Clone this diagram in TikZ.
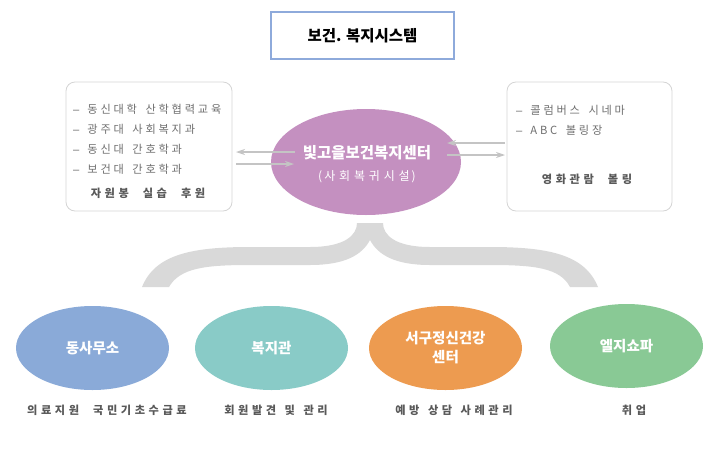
\documentclass[tikz,border=0pt]{standalone}
\usepackage{fontspec}
\setmainfont{Noto Sans CJK KR}
\newfontfamily\krsp[LetterSpace=25]{Noto Sans CJK KR}
\newfontfamily\krspw[LetterSpace=32]{Noto Sans CJK KR}
\newfontfamily\latf{Liberation Sans}
\usetikzlibrary{arrows.meta,shapes.geometric}
\definecolor{titleblue}{HTML}{8EAADB}
\definecolor{boxline}{HTML}{D4D4D4}
\definecolor{cpurple}{HTML}{C490C0}
\definecolor{cblue}{HTML}{8AAAD8}
\definecolor{cteal}{HTML}{89CBC7}
\definecolor{corange}{HTML}{ED9B50}
\definecolor{cgreen}{HTML}{89C995}
\definecolor{bracegray}{HTML}{D9D9D9}
\definecolor{arrgray}{HTML}{C4C4C4}
\definecolor{txtgray}{HTML}{6E6E6E}
\definecolor{lblgray}{HTML}{595959}
\newcommand{\wsp}{\hspace{8.5pt}}
\newcommand{\dsh}{{\latf –}\hspace{8pt}}
\begin{document}
\begin{tikzpicture}[x=1pt,y=-1pt,
  infobox/.style={draw=boxline,line width=0.8pt,rounded corners=9pt},
  item/.style={anchor=west,inner sep=0pt,text=txtgray,font=\krsp\fontsize{11.2}{13}\selectfont},
  boldlbl/.style={inner sep=0pt,text=lblgray,font=\krspw\fontsize{11.2}{13}\selectfont\bfseries},
  blob/.style={ellipse,minimum width=153pt,minimum height=84pt,inner sep=0pt,text=white,
     font=\fontsize{14.5}{19}\selectfont\bfseries,align=center},
  conn/.style={draw=arrgray,line width=1.1pt,-{Stealth[length=9pt,width=6pt]}}
]
\useasboundingbox (0,0) rectangle (720,453);
% title
\node[draw=titleblue,line width=2.5pt,minimum width=183pt,minimum height=47pt,
  font=\fontsize{15.5}{17}\selectfont\bfseries] (title) at (362.5,35.5) {보건. 복지시스템};
% side boxes
\draw[infobox] (66,82) rectangle (232,211);
\node[inner sep=0pt] (lbox) at (149,146.5) {};
\draw[infobox] (507,82) rectangle (672,211);
\node[inner sep=0pt] (rbox) at (589.5,146.5) {};
\node[item] (l1) at (73,109) {\dsh 동신대학\wsp 산학협력교육};
\node[item] (l2) at (73,129) {\dsh 광주대\wsp 사회복지과};
\node[item] (l3) at (73,149) {\dsh 동신대\wsp 간호학과};
\node[item] (l4) at (73,169) {\dsh 보건대\wsp 간호학과};
\node[boldlbl] (l5) at (148,193) {자원봉\hspace{14pt}실습\hspace{14pt}후원};
\node[item] (r1) at (516,110) {\dsh 콜럼버스\wsp 시네마};
\node[item] (r2) at (516,130) {\dsh ABC\wsp 볼링장};
\node[boldlbl] (r5) at (587,179) {영화관람\hspace{14pt}볼링};
% brace
\fill[bracegray] (142,287) .. controls (155,255) and (190,247) .. (250,247) -- (310,247)
  .. controls (345,247) and (357,235) .. (357,223) -- (383,223)
  .. controls (383,235) and (395,247) .. (430,247) -- (490,247)
  .. controls (550,247) and (585,255) .. (598,287) -- (570,287)
  .. controls (560,268) and (535,265) .. (490,265) -- (430,265)
  .. controls (395,265) and (378,255) .. (370,240)
  .. controls (362,255) and (345,265) .. (310,265) -- (250,265)
  .. controls (205,265) and (180,268) .. (169,287) -- cycle;
% center
\node[ellipse,fill=cpurple,minimum width=190pt,minimum height=106pt,inner sep=0pt] (center) at (366,162) {};
\node[text=white,font=\fontsize{15.5}{18}\selectfont\bfseries,inner sep=0pt] (ct1) at (367,153) {빛고을보건복지센터};
\node[text=white,font=\krspw\fontsize{12}{14}\selectfont,inner sep=0pt] (ct2) at (367,177) {(\,사회복귀시설\,)};
% arrows
\coordinate (la1) at (295,152); \coordinate (lb1) at (236,152);
\coordinate (la2) at (236,164); \coordinate (lb2) at (294,164);
\coordinate (ra1) at (505,143); \coordinate (rb1) at (447,143);
\coordinate (ra2) at (447,155); \coordinate (rb2) at (505,155);
\draw[conn] (la1) -- (lb1);
\draw[conn] (la2) -- (lb2);
\draw[conn] (ra1) -- (rb1);
\draw[conn] (ra2) -- (rb2);
% bottom ellipses
\node[blob,fill=cblue] (b1) at (92.5,348) {동사무소};
\node[blob,fill=cteal] (b2) at (271.5,348) {복지관};
\node[blob,fill=corange] (b3) at (445.5,348) {서구정신건강\\센터};
\node[blob,fill=cgreen] (b4) at (626.5,346) {엘지쇼파};
\node[boldlbl] (t1) at (107,410) {의료지원\hspace{14pt}국민기초수급료};
\node[boldlbl] (t2) at (276,410) {회원발견\wsp 및\wsp 관리};
\node[boldlbl] (t3) at (454,410) {예방\wsp 상담\wsp 사례관리};
\node[boldlbl] (t4) at (634,410) {취업};
\end{tikzpicture}
\end{document}
